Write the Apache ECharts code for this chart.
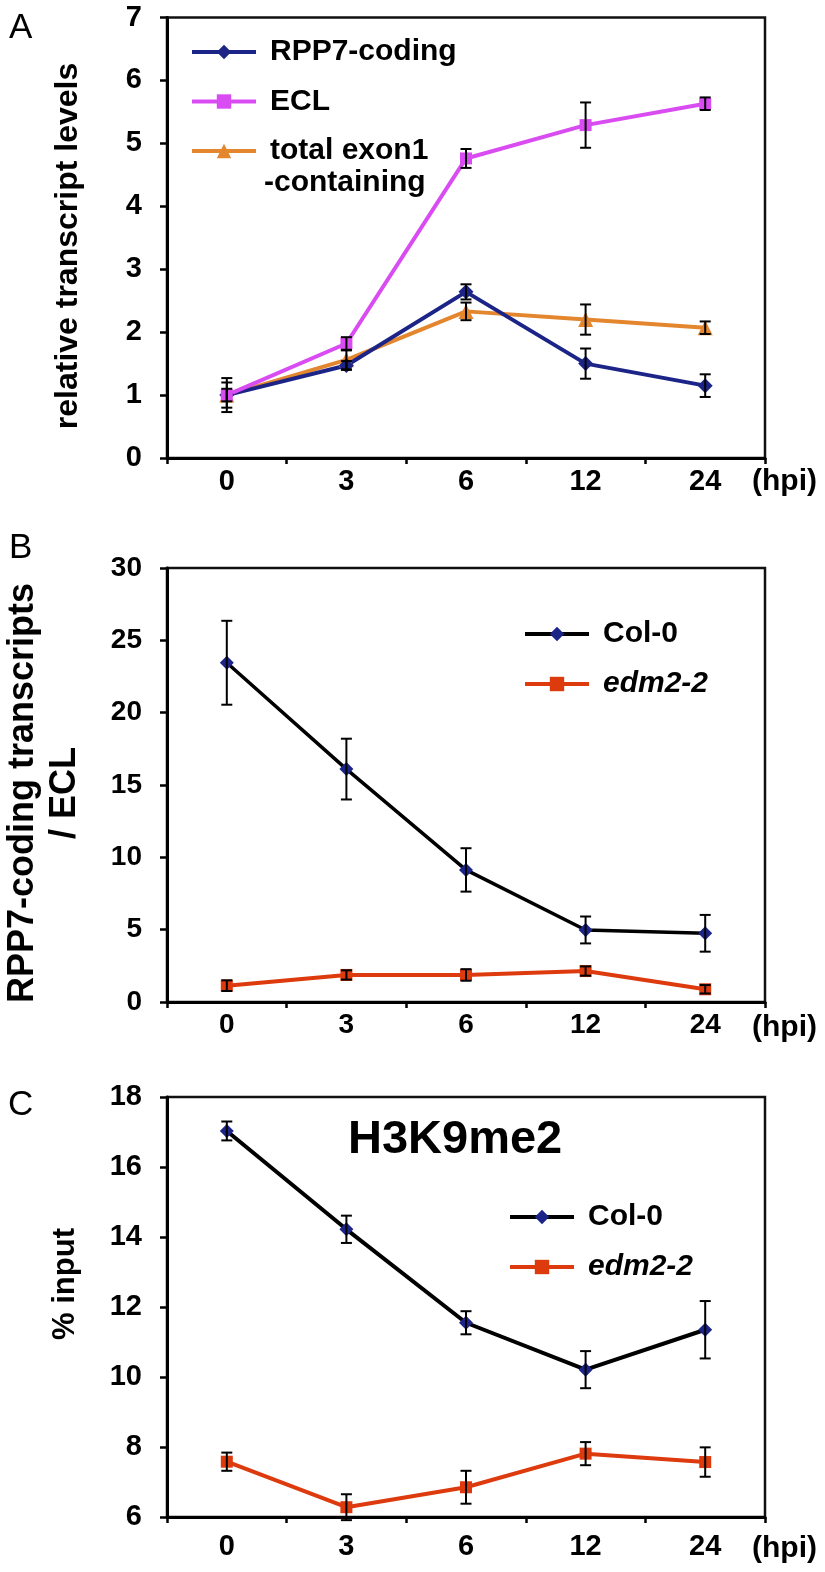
<!DOCTYPE html>
<html><head><meta charset="utf-8">
<script src="https://cdn.jsdelivr.net/npm/echarts@6/dist/echarts.min.js"></script>
<style>html,body{margin:0;padding:0;background:#fff}#c{width:825px;height:1572px}</style>
</head><body><div id="c"></div>
<script>
// ---------- data ----------
const categories = ['0', '3', '6', '12', '24'];
// Panel A: relative transcript levels
const rppCoding    = [1.00, 1.47, 2.64, 1.50, 1.15];
const rppCodingErr = [0.20, 0.07, 0.12, 0.24, 0.18];
const ecl          = [1.00, 1.82, 4.76, 5.29, 5.63];
const eclErr       = [0.10, 0.10, 0.15, 0.36, 0.10];
const exon1        = [1.00, 1.56, 2.33, 2.20, 2.07];
const exon1Err     = [0.27, 0.15, 0.14, 0.24, 0.10];
// Panel B: RPP7-coding / ECL
const ratioCol0    = [23.45, 16.10, 9.13, 4.98, 4.75];
const ratioCol0Err = [2.90, 2.10, 1.50, 0.93, 1.27];
const ratioEdm     = [1.13, 1.87, 1.87, 2.14, 0.88];
const ratioEdmErr  = [0.37, 0.32, 0.40, 0.32, 0.29];
// Panel C: H3K9me2 % input
const h3Col0       = [17.03, 14.22, 11.55, 10.21, 11.35];
const h3Col0Err    = [0.27, 0.39, 0.33, 0.53, 0.82];
const h3Edm        = [7.58, 6.28, 6.85, 7.81, 7.57];
const h3EdmErr     = [0.26, 0.37, 0.47, 0.33, 0.42];
// axis ranges
const yRangeA = {min: 0, max: 7, interval: 1};
const yRangeB = {min: 0, max: 30, interval: 5};
const yRangeC = {min: 6, max: 18, interval: 2};

// ---------- styling helpers ----------
const FF = '"Liberation Sans", Arial, Helvetica, sans-serif';
const C_NAVY = '#1c2587', C_MAG = '#d94cf2', C_ORG = '#e3862e', C_RED = '#dd3a0e';

const grids = [
  {left: 167, right: 60, top: 17.5, height: 440.5},
  {left: 167, right: 60, top: 568, height: 434},
  {left: 167, right: 60, top: 1097, height: 420}
].map(g => Object.assign(g, {show: true, borderColor: '#111', borderWidth: 2.5, backgroundColor: 'transparent'}));

const labelSizes = [29, 28, 29];
const labelMargins = [9, 9, 15];
const xAxes = grids.map((g, i) => ({
  type: 'category', gridIndex: i, data: categories, boundaryGap: true,
  axisLine: {lineStyle: {color: '#000', width: 3}},
  axisTick: {show: true, length: 6, inside: false, lineStyle: {color: '#000', width: 2.5}},
  axisLabel: {color: '#000', fontSize: labelSizes[i], fontWeight: 'bold', fontFamily: FF, margin: labelMargins[i]},
  splitLine: {show: false}
}));
const yAxes = [yRangeA, yRangeB, yRangeC].map((r, i) => ({
  type: 'value', gridIndex: i, min: r.min, max: r.max, interval: r.interval,
  axisLine: {show: true, lineStyle: {color: '#000', width: 3}},
  axisTick: {show: true, length: 7, inside: false, lineStyle: {color: '#000', width: 2.5}},
  axisLabel: {color: '#000', fontSize: labelSizes[i], fontWeight: 'bold', fontFamily: FF, margin: 25},
  splitLine: {show: false}
}));

function lineSeries(name, grid, values, lineColor, markColor, symbol, size, width) {
  return {
    type: 'line', name: name, xAxisIndex: grid, yAxisIndex: grid, data: values,
    symbol: symbol, symbolSize: size, z: 2,
    lineStyle: {color: lineColor, width: width},
    itemStyle: {color: markColor, borderWidth: 0},
    emphasis: {disabled: true}, animation: false
  };
}
function errRender(params, api) {
  const i = api.value(0), v = api.value(1), e = api.value(2);
  const hi = api.coord([i, v + e]), lo = api.coord([i, v - e]);
  const w = 5.5;
  const st = {stroke: '#000', lineWidth: 2};
  return {type: 'group', children: [
    {type: 'line', shape: {x1: hi[0], y1: hi[1], x2: lo[0], y2: lo[1]}, style: st},
    {type: 'line', shape: {x1: hi[0] - w, y1: hi[1], x2: hi[0] + w, y2: hi[1]}, style: st},
    {type: 'line', shape: {x1: lo[0] - w, y1: lo[1], x2: lo[0] + w, y2: lo[1]}, style: st}
  ]};
}
function errSeries(id, grid, values, errs) {
  return {
    type: 'custom', name: id, xAxisIndex: grid, yAxisIndex: grid, z: 4,
    renderItem: errRender, encode: {x: 0, y: 1},
    data: values.map((v, i) => [i, v, errs[i]]), animation: false, silent: true
  };
}

const series = [
  lineSeries('total exon1', 0, exon1, C_ORG, C_ORG, 'triangle', 15, 4),
  lineSeries('RPP7-coding', 0, rppCoding, C_NAVY, C_NAVY, 'diamond', 15, 4),
  lineSeries('ECL', 0, ecl, C_MAG, C_MAG, 'rect', 12, 4),
  errSeries('errExon1', 0, exon1, exon1Err),
  errSeries('errRpp', 0, rppCoding, rppCodingErr),
  errSeries('errEcl', 0, ecl, eclErr),
  lineSeries('Col-0', 1, ratioCol0, '#000', C_NAVY, 'diamond', 14, 3.5),
  lineSeries('edm2-2', 1, ratioEdm, C_RED, C_RED, 'rect', 12, 4),
  errSeries('errB1', 1, ratioCol0, ratioCol0Err),
  errSeries('errB2', 1, ratioEdm, ratioEdmErr),
  lineSeries('Col-0', 2, h3Col0, '#000', C_NAVY, 'diamond', 14, 4),
  lineSeries('edm2-2', 2, h3Edm, C_RED, C_RED, 'rect', 12, 4),
  errSeries('errC1', 2, h3Col0, h3Col0Err),
  errSeries('errC2', 2, h3Edm, h3EdmErr)
];

function legend(left, top, items, gap) {
  return {
    left: left, top: top, orient: 'vertical', selectedMode: false,
    itemWidth: 64, itemHeight: 18, itemGap: gap,
    lineStyle: {width: 4},
    textStyle: {color: '#000', fontSize: 30, fontWeight: 'bold', fontFamily: FF, lineHeight: 30, padding: [0, 0, 0, 9]},
    data: items
  };
}

function txt(text, x, y, font, opts) {
  return Object.assign({type: 'text', x: x, y: y, silent: true,
    style: {text: text, font: font, fill: '#000', align: (opts && opts.align) || 'left', verticalAlign: 'middle'}},
    (opts && opts.rot) ? {rotation: opts.rot} : {});
}

const option = {
  backgroundColor: '#fff',
  animation: false,
  grid: grids, xAxis: xAxes, yAxis: yAxes, series: series,
  legend: [
    legend(185, 32, ['RPP7-coding', 'ECL', 'total exon1'], 19.5),
    legend(518, 614, ['Col-0', {name: 'edm2-2', textStyle: {fontStyle: 'italic'}}], 20),
    legend(503, 1197, ['Col-0', {name: 'edm2-2', textStyle: {fontStyle: 'italic'}}], 20)
  ],
  graphic: [
    txt('A', 9, 28, '35px ' + FF),
    txt('B', 9, 548, '35px ' + FF),
    txt('C', 8, 1105, '35px ' + FF),
    txt('-containing', 264, 183, 'bold 30px ' + FF),
    txt('H3K9me2', 348, 1140, 'bold 47px ' + FF),
    txt('(hpi)', 752, 482, 'bold 30px ' + FF),
    txt('(hpi)', 752, 1028, 'bold 30px ' + FF),
    txt('(hpi)', 752, 1549, 'bold 30px ' + FF),
    txt('relative transcript levels', 68, 246, 'bold 32px ' + FF, {align: 'center', rot: Math.PI / 2}),
    {type: 'text', x: 44, y: 793, rotation: Math.PI / 2, silent: true,
      style: {text: 'RPP7-coding transcripts\n/ ECL', font: 'bold 36px ' + FF, lineHeight: 42, fill: '#000', align: 'center', verticalAlign: 'middle'}},
    txt('% input', 65, 1284, 'bold 31px ' + FF, {align: 'center', rot: Math.PI / 2})
  ]
};
const chart = echarts.init(document.getElementById('c'), null, {renderer: 'canvas'});
chart.setOption(option);
</script>
</body></html>
